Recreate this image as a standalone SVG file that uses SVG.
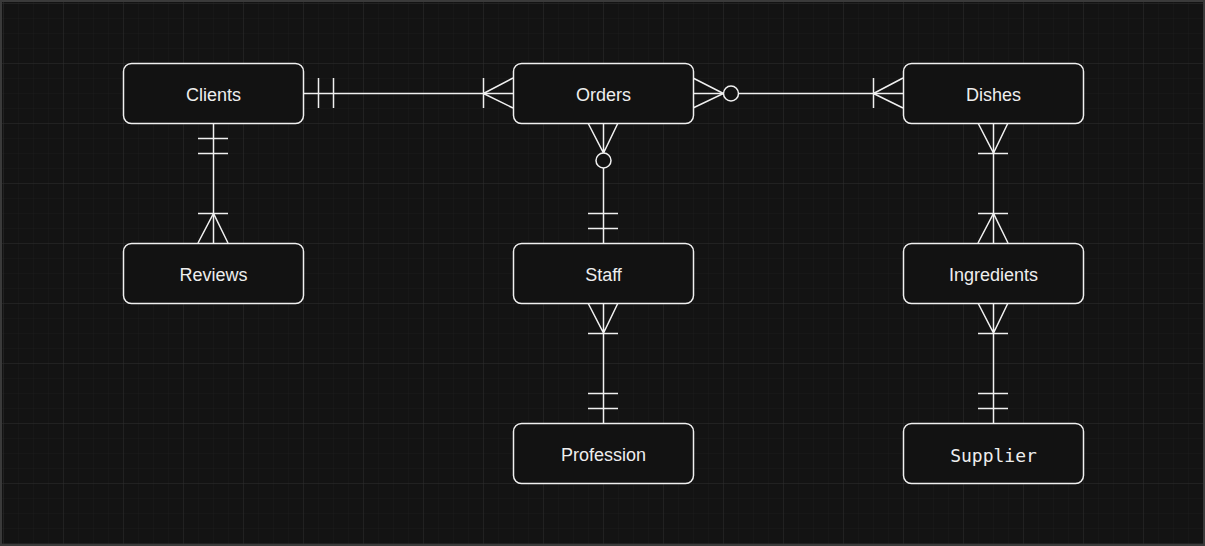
<svg xmlns="http://www.w3.org/2000/svg" width="1205" height="546" viewBox="0 0 1205 546">
<defs>
<pattern id="minor" x="3" y="3" width="15" height="15" patternUnits="userSpaceOnUse">
<path d="M0 0H15M0 0V15" fill="none" stroke="#1c1c1c" stroke-width="1"/>
</pattern>
<pattern id="major" x="3" y="3" width="60" height="60" patternUnits="userSpaceOnUse">
<path d="M0 0H60M0 0V60" fill="none" stroke="#2c2c2c" stroke-width="1"/>
</pattern>
</defs>
<style>
.node rect{fill:#121212;stroke:#f0f0f0;stroke-width:1.5}
.node text{fill:#eeeeee;font-family:"Liberation Sans",Arial,sans-serif;font-size:18px;text-anchor:middle;dominant-baseline:central}
.node text.mono{font-family:"DejaVu Sans Mono","Liberation Mono",monospace;font-size:18px}
#connectors path,#connectors line{fill:none;stroke:#f0f0f0;stroke-width:1.5}
#connectors circle{fill:#121212;stroke:#f0f0f0;stroke-width:1.5}
</style>
<rect x="0" y="0" width="1205" height="546" fill="#131313"/>
<rect x="0" y="0" width="1205" height="546" fill="url(#minor)"/>
<rect x="0" y="0" width="1205" height="546" fill="url(#major)"/>
<rect x="1" y="1" width="1203" height="544" fill="none" stroke="#3a3a3a" stroke-width="2"/>

<g id="connectors">
<!-- Clients - Orders -->
<path d="M303.5 93.5H513"/>
<path d="M318.5 78V108M333.5 78V108"/>
<path d="M483.5 78V108M483.5 93.5L513 78M483.5 93.5L513 108"/>
<!-- Orders - Dishes -->
<path d="M693 78L723.5 93.5L693 108"/>
<path d="M693 93.5H723.5"/>
<circle cx="731" cy="93.5" r="7.5"/>
<path d="M738.5 93.5H903"/>
<path d="M873.5 78V108M873.5 93.5L903 78M873.5 93.5L903 108"/>
<!-- Orders - Staff -->
<path d="M588 123L603.5 153L618 123M603.5 123V153"/>
<circle cx="603.5" cy="160.5" r="7.5"/>
<path d="M603.5 168V243"/>
<path d="M588 213.5H618M588 228.5H618"/>
<!-- Staff - Profession -->
<path d="M588 303L603.5 333L618 303M603.5 303V423"/>
<path d="M588 333.5H618M588 393.5H618M588 408.5H618"/>
<!-- Clients - Reviews -->
<path d="M213.5 123V243"/>
<path d="M198 138.5H228M198 153.5H228M198 213.5H228"/>
<path d="M198 243L213.5 213.5L228 243"/>
<!-- Dishes - Ingredients -->
<path d="M993.5 123V243"/>
<path d="M978 123L993.5 153L1008 123M978 153.5H1008"/>
<path d="M978 213.5H1008M978 243L993.5 213.5L1008 243"/>
<!-- Ingredients - Supplier -->
<path d="M978 303L993.5 333L1008 303M993.5 303V423"/>
<path d="M978 333.5H1008M978 393.5H1008M978 408.5H1008"/>
</g>

<g id="clients" class="node"><rect x="123.5" y="63.5" width="180" height="60" rx="8"/><text x="213.5" y="95">Clients</text></g>
<g id="orders" class="node"><rect x="513.5" y="63.5" width="180" height="60" rx="8"/><text x="603.5" y="95">Orders</text></g>
<g id="dishes" class="node"><rect x="903.5" y="63.5" width="180" height="60" rx="8"/><text x="993.5" y="95">Dishes</text></g>
<g id="reviews" class="node"><rect x="123.5" y="243.5" width="180" height="60" rx="8"/><text x="213.5" y="275">Reviews</text></g>
<g id="staff" class="node"><rect x="513.5" y="243.5" width="180" height="60" rx="8"/><text x="603.5" y="275">Staff</text></g>
<g id="ingredients" class="node"><rect x="903.5" y="243.5" width="180" height="60" rx="8"/><text x="993.5" y="275">Ingredients</text></g>
<g id="profession" class="node"><rect x="513.5" y="423.5" width="180" height="60" rx="8"/><text x="603.5" y="455">Profession</text></g>
<g id="supplier" class="node"><rect x="903.5" y="423.5" width="180" height="60" rx="8"/><text class="mono" x="993.5" y="455">Supplier</text></g>
</svg>
